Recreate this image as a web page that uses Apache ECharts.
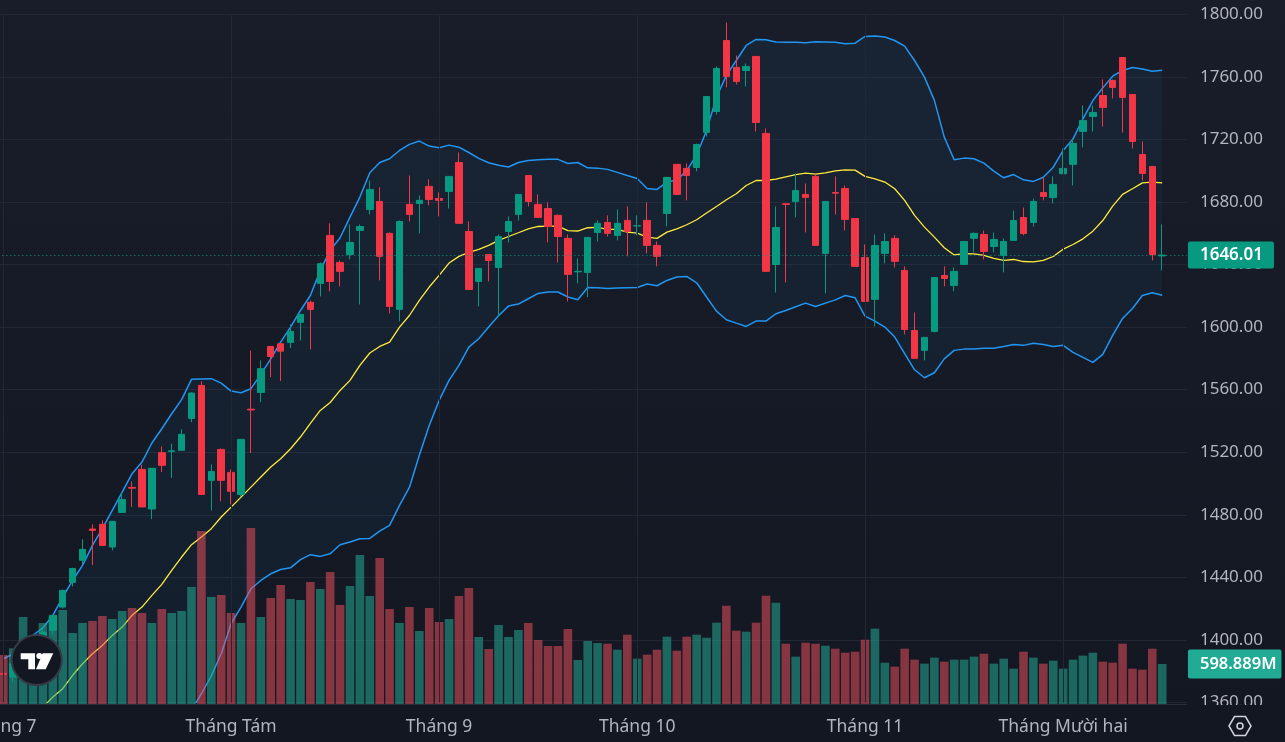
<!DOCTYPE html>
<html><head><meta charset="utf-8">
<style>html,body{margin:0;padding:0;background:#131722}#c{width:1285px;height:742px}</style>
<script src="https://cdn.jsdelivr.net/npm/echarts@6/dist/echarts.min.js"></script>
</head><body><div id="c"></div>
<script>
const priceTicks = {min:1360,max:1800,step:40};
const monthIndex = [0,23,44,64,87,107];
const monthLabels = ['Tháng 7','Tháng Tám','Tháng 9','Tháng 10','Tháng 11','Tháng Mười hai'];
const lastPrice = 1646.01;
const lastVolume = 598.889;
const opens = [1378.6,1376.3,1385,1392,1398,1406.1,1421,1436.8,1450.9,1470.9,1473.9,1459.4,1481.5,1497.5,1509,1483.7,1519.7,1520.5,1521.2,1541.6,
1562.7,1502,1521.8,1507.1,1493,1547.5,1558.2,1587.6,1589.3,1590.2,1603,1615.8,1627.9,1658.6,1641.3,1646.4,1661.8,1675.2,1680.3,1659.9,
1611.3,1678.4,1679,1689.9,1682.2,1686.7,1705.2,1661.1,1629.2,1646.4,1638.1,1661.1,1672,1696.9,1678.4,1675.8,1671.4,1656.7,1635.3,1634.9,
1660.5,1666.9,1658.6,1668.2,1664.6,1668.2,1652.2,1672.6,1704,1701.4,1702,1724.4,1737.8,1783.2,1766,1764,1773,1723.8,1640,1678.8,
1680.3,1684.8,1696.3,1647.1,1686,1688.6,1669.4,1644.5,1617.7,1647.1,1656.7,1636.2,1597.8,1585.1,1597.2,1633,1626.6,1640,1656.7,1659.2,
1651.5,1645.8,1655.4,1670,1666.9,1686,1682.8,1698,1704,1725,1734.6,1748,1757.6,1772.3,1748.7,1710.3,1702.7,1645.5];
const closes = [1378,1384.8,1392,1398,1405,1415.7,1431.7,1445.7,1457.9,1470,1460.4,1475.8,1489.8,1497,1485,1509.7,1511.6,1520.9,1531.4,1557.8,
1493,1507.7,1502,1495,1528.2,1547,1573.4,1581.2,1584.6,1597.2,1608.1,1611.3,1640.5,1629.2,1635.6,1654.1,1664.3,1688,1645.2,1613.2,
1667.5,1672,1681,1681.6,1681,1696.3,1666.3,1624,1637.5,1642.6,1657.9,1667.5,1684.8,1680.3,1670.1,1664.3,1657.9,1633.7,1635.6,1657.3,
1666.3,1659.9,1666.3,1661.1,1664.8,1652.2,1645.2,1695.7,1684.8,1696.9,1716.7,1747.4,1765.3,1760.2,1757,1766.6,1730.8,1635.6,1663.7,1678.4,
1687.3,1682.9,1652.2,1680.3,1685.6,1668.8,1638.8,1616.4,1652.2,1654.7,1642,1598.5,1580,1593.4,1631.7,1631.1,1635.6,1654.7,1659.9,1648.3,
1656,1654.7,1668.1,1659.8,1680.3,1683.5,1691.2,1701.4,1717.4,1732,1737.2,1740.4,1753.2,1746.8,1718.6,1698.2,1646.4,1646.01];
const lows = [1369.9,1373,1383,1390,1396,1403.6,1420,1434.2,1448.3,1447.9,1460.4,1457.2,1481.5,1485,1485,1477.3,1507.3,1503.5,1521.2,1539.1,
1493,1482.8,1488.6,1486.7,1491.3,1519.5,1552,1568,1565.5,1586.6,1591.5,1585.7,1619.6,1622.8,1626,1643.2,1614.5,1672,1629.8,1608.7,
1603.6,1667.5,1659.9,1677.8,1670.7,1675.8,1666.3,1624,1613.2,1629.2,1606.4,1654.1,1668.2,1677.1,1670.1,1654.1,1641.3,1616.4,1627.9,1619.2,
1654.7,1657.9,1655.4,1645.2,1658.6,1647.1,1638.8,1664.3,1684.8,1681,1699.5,1721.9,1735.9,1753.2,1755.1,1753.8,1725,1635.6,1622.1,1628.5,
1670.1,1660.5,1652.2,1621.5,1672,1661.8,1638.8,1616.4,1600.4,1640.7,1638.1,1595.3,1580,1578.7,1596.6,1626,1622.8,1640,1647.7,1643.2,
1647.7,1634.9,1655.4,1658.6,1664.3,1681,1679,1698,1690.5,1714.8,1725,1728.2,1746.1,1724.4,1714.2,1693.7,1642.6,1636.2];
const highs = [1383.7,1386,1394,1400,1407,1415.7,1432.1,1446.2,1464.3,1473.9,1476.4,1475.8,1494.5,1501.4,1512,1509.7,1523.7,1525.4,1534.6,1558.2,
1565.3,1512.2,1522.4,1509,1528.2,1585,1578.7,1588,1589.3,1601.7,1608.1,1617,1641.3,1666.3,1642.6,1665.6,1665.6,1693.7,1689.3,1660.5,
1668.2,1696.9,1684.1,1694.4,1686.1,1696.3,1711.6,1667.5,1637.5,1646.4,1659.2,1670.7,1684.8,1696.9,1684.8,1679.7,1672,1659.2,1643.9,1657.3,
1668.2,1671.4,1675.2,1677.1,1671.4,1679.7,1654.7,1695.7,1704,1704.6,1717.4,1747.4,1766.6,1794.7,1773.6,1768.5,1773,1727,1677.1,1678.8,
1698.2,1691.8,1697.6,1680.3,1696.3,1690.5,1669.4,1652.8,1659.2,1659.9,1658.6,1638.8,1609.4,1593.4,1631.7,1638.8,1638.1,1654.7,1660.5,1661.7,
1660.5,1656.6,1674.5,1676.4,1682.2,1695.6,1696.3,1714.2,1720.6,1741.6,1741.6,1758.3,1758.3,1772.3,1748.7,1718.6,1702.7,1665.6];
const volumes = [734,833,1302,1008,1213,1307,1407,1063,1213,1243,1317,1272,1392,1437,1362,1213,1422,1362,1392,1751,
2590,1602,1632,1362,1213,2635,1302,1587,1781,1572,1557,1826,1722,1976,1482,1766,2231,1617,2186,1422,
1213,1452,1093,1437,1228,1272,1617,1737,1003,823,1183,1003,1108,1213,958,868,868,1123,659,943,
913,903,813,1038,679,739,813,1008,798,1008,1038,993,1218,1472,1098,1083,1218,1622,1517,903,
709,918,903,873,828,768,783,963,1128,619,559,828,664,604,694,634,664,664,709,753,
604,679,529,783,694,604,649,529,664,724,768,634,619,903,529,514,828,598.889];
const upperBand = [1388,1391,1396,1403,1407.8,1415.7,1427.4,1438,1447.7,1460.4,1471.1,1482.8,1494.5,1506.3,1513.7,1525.9,1535,1544.6,1553.6,1566.6,
1566.8,1567,1564.2,1559.1,1558,1560.6,1569.8,1579.7,1590.4,1600,1610.6,1620.2,1636.2,1649,1657.1,1670.3,1683.1,1698.6,1705.2,1707.6,
1712.9,1716.8,1718.9,1715.7,1714.6,1716.3,1715,1711.6,1707.8,1705,1703.5,1702.3,1705.2,1706.5,1706.9,1707.2,1707.2,1704.6,1705.2,1701.8,
1701.6,1700.8,1698.9,1696.9,1695,1688.6,1688,1692.7,1694,1700,1710,1725.7,1747,1760.9,1770.4,1780,1783.9,1783.7,1782.2,1782,
1782,1781.7,1782.4,1782.2,1782,1781.1,1781.5,1785.8,1786,1785.4,1783.2,1779.6,1770.4,1759.8,1744.9,1721.4,1707,1708,1707.6,1704.8,
1699.7,1695.4,1697.5,1694.1,1693.1,1695.8,1702.2,1712.9,1720.3,1733.1,1744.8,1752.9,1760.4,1764,1765.9,1764.9,1763.6,1764.2];
const middleBand = [1335,1341,1346,1351,1357,1363.5,1368.8,1377.4,1384.8,1391.2,1396.5,1402.9,1408.2,1415.7,1421,1428.5,1435.5,1444.5,1453,1460.9,
1465.8,1471.1,1478.6,1484.9,1491.3,1497.7,1504.1,1510.5,1515.8,1522.2,1529.7,1538.4,1546.7,1551.8,1559.5,1565.9,1575.5,1583.4,1587.6,1590.4,
1600,1607.4,1617,1625.6,1633,1640.9,1645.2,1647.7,1649.6,1652.2,1655.4,1657.9,1660.3,1662.8,1664.3,1664.5,1664.5,1661.6,1661.4,1663.5,
1663.7,1662.4,1662.4,1660.7,1660.1,1657.5,1656.7,1660.7,1662.8,1665.4,1668.6,1672.9,1677.1,1681.4,1685.2,1690.5,1693.7,1693.7,1694.6,1696,
1697.4,1698.4,1697.8,1698.6,1699.9,1700.5,1700.3,1696.3,1694.8,1692.7,1688.4,1681,1671.4,1663.9,1657.5,1650.7,1646.1,1646.9,1646.8,1645.8,
1643.9,1642.6,1643.2,1641.9,1641.7,1642.6,1645.1,1649.8,1652.8,1656.4,1661.3,1668.1,1677.3,1684.8,1688.4,1692.2,1692.6,1692.2];
const lowerBand = [1285,1291,1297,1302,1307,1311,1310,1317,1322,1322,1322,1323,1322,1325,1328,1331,1336,1344,1352,1355,
1365.6,1377,1391.2,1410.4,1421,1432.7,1438,1442.3,1445,1446.1,1451.3,1454.5,1453.4,1455.1,1460.8,1462.6,1464.7,1464.9,1469.6,1473.2,
1486,1497.5,1518,1537.1,1553.1,1565.9,1575.5,1587.2,1592.5,1600,1607.2,1613.4,1614.7,1618.1,1621.5,1622.4,1622.4,1619.2,1617.5,1625.3,
1625.1,1624.7,1624.9,1625.1,1625.3,1627.5,1626.4,1629.8,1632,1632.4,1628.3,1619.2,1610.2,1604.7,1602.5,1600.4,1603.8,1603.8,1608.5,1610.6,
1613,1615.3,1613.2,1615.3,1617.4,1620.2,1618.7,1607,1603.8,1600,1593.6,1583,1572.7,1567.6,1570.8,1579.7,1585.1,1585.9,1585.9,1586.4,
1586.4,1587.6,1588.9,1588.3,1589.6,1588.9,1587.6,1588.3,1583.8,1580.6,1577.4,1582.5,1594.7,1605.5,1611.9,1620.2,1621.9,1620.4];

const SLOTS = 120;
const categories = Array.from({length:SLOTS},(_,i)=>{const k=monthIndex.indexOf(i);return k>=0?monthLabels[k]:'';});
const UP='#089981',DOWN='#F23645',VOL_UP='rgba(34,171,148,0.55)',VOL_DOWN='rgba(247,82,95,0.5)';
const GRID='#232733',TXT='#B2B5BE',BLUE='#2196F3',YEL='#FFEB3B';
const FONT='"Noto Sans",sans-serif';
const candle=opens.map((o,i)=>[o,closes[i],lows[i],highs[i]]);
const volData=volumes.map((v,i)=>({value:v,itemStyle:{color:closes[i]>=opens[i]?VOL_UP:VOL_DOWN}}));
const bandSpan=upperBand.map((u,i)=>+(u-lowerBand[i]).toFixed(2));
const lineBase={type:'line',showSymbol:false,symbol:'none',silent:true,animation:false,xAxisIndex:0,yAxisIndex:0};
const hex=[[1229,726],[1234.5,716.5],[1245.5,716.5],[1251,726],[1245.5,735.5],[1234.5,735.5]];
const chart=echarts.init(document.getElementById('c'),null,{renderer:'canvas'});
chart.setOption({
 animation:false,
 backgroundColor:{type:'linear',x:0,y:0,x2:0,y2:1,colorStops:[{offset:0,color:'#191d29'},{offset:1,color:'#131722'}]},
 grid:[{left:-1.65,right:98.05,top:14.2,bottom:39.5,outerBoundsMode:'none'},{left:-1.65,right:98.05,top:0,bottom:38,outerBoundsMode:'none'}],
 xAxis:[
  {type:'category',gridIndex:0,data:categories,boundaryGap:true,axisLine:{show:false},axisTick:{show:false},axisLabel:{show:false},splitLine:{show:false}},
  {type:'category',gridIndex:1,data:categories,boundaryGap:true,z:5,
   axisLine:{show:true,lineStyle:{color:'#2A2E39',width:1}},axisTick:{show:false},splitLine:{show:false},
   axisLabel:{show:true,interval:(i)=>monthIndex.includes(i),color:TXT,fontFamily:FONT,fontSize:17.5,margin:14,hideOverlap:false}}
 ],
 yAxis:[
  {type:'value',gridIndex:0,position:'right',min:priceTicks.min,max:priceTicks.max,interval:priceTicks.step,z:1,
   axisLine:{show:false},axisTick:{show:false},splitLine:{show:true,lineStyle:{color:GRID,width:1}},
   axisLabel:{color:TXT,fontFamily:FONT,fontSize:17,margin:13,padding:[2,0,0,0],formatter:v=>v.toFixed(2)}},
  {type:'value',gridIndex:1,position:'right',min:0,max:10540,show:false,splitLine:{show:false}}
 ],
 graphic:[
  {type:'rect',z:3,silent:true,shape:{x:1188,y:705,width:97,height:37},style:{fill:'#131722'}},
  {type:'circle',z:50,silent:true,shape:{cx:36.7,cy:660,r:25},style:{fill:'#131722',stroke:'#363A45',lineWidth:2}},
  {type:'polygon',z:51,silent:true,shape:{points:[[20.7,653.3],[35,653.3],[35,669.3],[28.3,669.3],[28.3,659.3],[20.7,659.3]]},style:{fill:'#fff'}},
  {type:'circle',z:51,silent:true,shape:{cx:39.3,cy:656,r:3},style:{fill:'#fff'}},
  {type:'polygon',z:51,silent:true,shape:{points:[[42.7,653.3],[53.3,653.3],[45.7,669.3],[36,669.3]]},style:{fill:'#fff'}},
  {type:'polygon',z:51,silent:true,shape:{points:hex},style:{fill:'none',stroke:'#D1D4DC',lineWidth:1.5}},
  {type:'circle',z:51,silent:true,shape:{cx:1240,cy:726,r:3},style:{fill:'none',stroke:'#D1D4DC',lineWidth:1.5}}
 ],
 series:[
  {...lineBase,name:'base',data:lowerBand,stack:'bb',lineStyle:{opacity:0},z:1,
   markLine:{silent:true,symbol:'none',animation:false,label:{show:false},lineStyle:{color:GRID,type:'solid',width:1},
    data:monthIndex.map(i=>({xAxis:i}))}},
  {...lineBase,name:'fill',data:bandSpan,stack:'bb',lineStyle:{opacity:0},areaStyle:{color:'rgba(33,150,243,0.06)',opacity:1},z:1},
  {...lineBase,name:'upper',data:upperBand,lineStyle:{color:BLUE,width:1.5},z:2},
  {...lineBase,name:'lower',data:lowerBand,lineStyle:{color:BLUE,width:1.5},z:2},
  {...lineBase,name:'mid',data:middleBand,lineStyle:{color:YEL,width:1.3},z:2},
  {type:'bar',name:'vol',xAxisIndex:1,yAxisIndex:1,data:volData,barWidth:8.6,silent:true,z:3,animation:false,
   markLine:{silent:true,symbol:'none',animation:false,lineStyle:{color:'rgba(0,0,0,0)'},
    data:[{yAxis:lastVolume}],
    label:{show:true,position:'end',distance:1,formatter:()=>lastVolume.toFixed(3)+'M',color:'#fff',fontFamily:FONT,fontSize:16.5,fontWeight:600,
     backgroundColor:'#22AB94',padding:[6,5,6,12],borderRadius:2}}},
  {type:'candlestick',name:'price',xAxisIndex:0,yAxisIndex:0,data:candle,barWidth:7,silent:true,z:4,animation:false,
   itemStyle:{color:UP,color0:DOWN,borderColor:UP,borderColor0:DOWN,borderWidth:1},
   markLine:{silent:true,symbol:'none',animation:false,lineStyle:{color:UP,type:[1,3],width:1},
    data:[{yAxis:lastPrice}],
    label:{show:true,position:'end',distance:1,formatter:()=>lastPrice.toFixed(2),color:'#fff',fontFamily:FONT,fontSize:17,fontWeight:600,
     backgroundColor:UP,padding:[5,11,5,12],borderRadius:2}}}
 ]
});
</script></body></html>
